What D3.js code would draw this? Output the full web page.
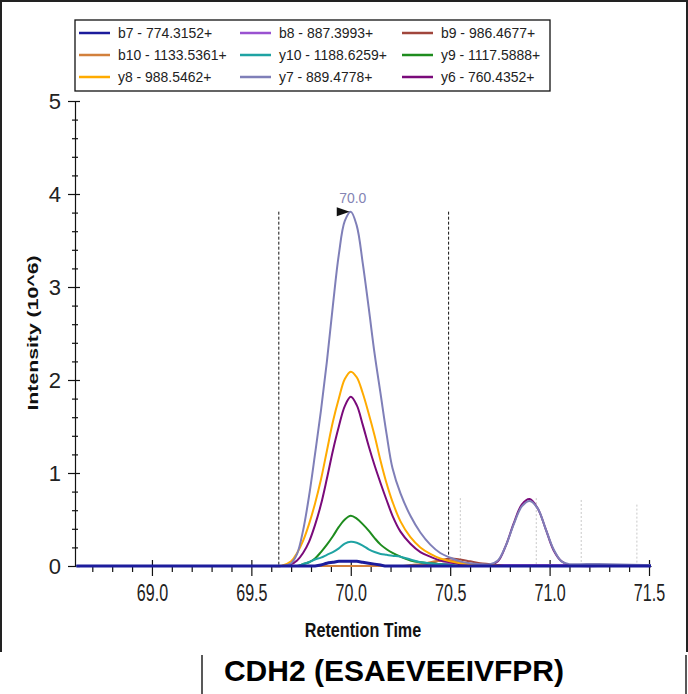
<!DOCTYPE html>
<html lang="en">
<head>
<meta charset="UTF-8">
<title>CDH2 (ESAEVEEIVFPR)</title>
<script src="https://d3js.org/d3.v7.min.js"></script>
<style>
  body, html { margin: 0; background: #fff; }
  svg { display: block; font-family: "Liberation Sans", Arial, sans-serif; }
</style>
</head>
<body>
<script>
// retention times (min), shared by all transitions
const times = [68.62, 69.60, 69.65, 69.70, 69.73, 69.76, 69.79, 69.82, 69.85, 69.88,
               69.91, 69.94, 69.97, 70.00, 70.03, 70.06, 70.09, 70.12, 70.15, 70.18,
               70.21, 70.25, 70.30, 70.35, 70.40, 70.45, 70.50, 70.55, 70.60, 70.65,
               70.70, 70.74, 70.78, 70.82, 70.86, 70.90, 70.94, 70.98, 71.02, 71.06,
               71.10, 71.15, 71.30, 71.51];

// intensities (10^6)
const b7 = [0, 0, 0, 0, 0, 0, 0, 0, 0.01, 0.03,
            0.04, 0.05, 0.05, 0.05, 0.05, 0.04, 0.03, 0.02, 0.01, 0,
            0, 0, 0, 0, 0, 0, 0, 0, 0, 0,
            0, 0, 0, 0, 0, 0, 0, 0, 0, 0,
            0, 0, 0, 0];
const b8 = [0, 0, 0, 0, 0, 0, 0, 0, 0, 0,
            0, 0, 0, 0, 0, 0, 0, 0, 0, 0,
            0, 0, 0, 0, 0.01, 0.02, 0.03, 0.03, 0.02, 0.02,
            0.01, 0.01, 0.01, 0.01, 0.01, 0.01, 0.01, 0.01, 0.01, 0.01,
            0.01, 0, 0, 0];
const b9 = [0, 0, 0, 0, 0, 0, 0, 0, 0, 0,
            0, 0, 0, 0, 0, 0, 0, 0, 0, 0,
            0, 0, 0, 0.01, 0.03, 0.06, 0.08, 0.07, 0.05, 0.03,
            0.02, 0.01, 0, 0, 0, 0, 0, 0, 0, 0,
            0, 0, 0, 0];
const b10 = [0, 0, 0, 0, 0, 0, 0, 0, 0, 0,
             0, 0, 0, 0, 0, 0, 0, 0, 0, 0,
             0, 0, 0.01, 0.02, 0.04, 0.06, 0.06, 0.04, 0.02, 0.01,
             0, 0, 0, 0, 0, 0, 0, 0, 0, 0,
             0, 0, 0, 0];
const y10 = [0, 0, 0, 0, 0, 0.02, 0.04, 0.07, 0.09, 0.12,
             0.15, 0.19, 0.24, 0.26, 0.25, 0.22, 0.18, 0.15, 0.13, 0.12,
             0.11, 0.10, 0.07, 0.04, 0.03, 0.02, 0.01, 0, 0, 0,
             0, 0, 0, 0, 0, 0, 0, 0, 0, 0,
             0, 0, 0, 0];
const y9 = [0, 0, 0, 0, 0, 0.02, 0.04, 0.08, 0.15, 0.23,
            0.32, 0.42, 0.50, 0.54, 0.51, 0.45, 0.38, 0.30, 0.23, 0.18,
            0.14, 0.10, 0.06, 0.04, 0.03, 0.02, 0.01, 0, 0, 0,
            0, 0, 0, 0, 0, 0, 0, 0, 0, 0,
            0, 0, 0, 0];
const y8 = [0, 0, 0, 0.05, 0.14, 0.27, 0.45, 0.67, 0.93, 1.24,
            1.55, 1.80, 2.01, 2.09, 2.03, 1.86, 1.64, 1.40, 1.13, 0.89,
            0.69, 0.48, 0.31, 0.20, 0.13, 0.08, 0.05, 0.03, 0.02, 0.01,
            0.01, 0, 0, 0, 0, 0, 0, 0, 0, 0,
            0, 0, 0, 0];
const y7 = [0, 0, 0, 0.03, 0.13, 0.38, 0.75, 1.20, 1.67, 2.20,
            2.80, 3.35, 3.71, 3.81, 3.66, 3.26, 2.78, 2.28, 1.85, 1.42,
            1.05, 0.78, 0.54, 0.36, 0.23, 0.14, 0.09, 0.05, 0.03, 0.02,
            0.02, 0.06, 0.22, 0.45, 0.64, 0.70, 0.62, 0.40, 0.18, 0.05,
            0.02, 0.02, 0.02, 0.01];
const y6 = [0, 0, 0, 0.02, 0.06, 0.14, 0.26, 0.44, 0.66, 0.94,
            1.24, 1.50, 1.72, 1.82, 1.73, 1.52, 1.29, 1.08, 0.89, 0.71,
            0.54, 0.37, 0.24, 0.15, 0.10, 0.06, 0.04, 0.02, 0.01, 0.01,
            0.01, 0.05, 0.22, 0.46, 0.66, 0.72, 0.62, 0.40, 0.17, 0.05,
            0.01, 0.01, 0.01, 0];

const legendNames = ["b7 - 774.3152+", "b8 - 887.3993+", "b9 - 986.4677+",
                     "b10 - 1133.5361+", "y10 - 1188.6259+", "y9 - 1117.5888+",
                     "y8 - 988.5462+", "y7 - 889.4778+", "y6 - 760.4352+"];
const seriesValues = [b7, b8, b9, b10, y10, y9, y8, y7, y6];
const seriesColors = ["#1c1c9c", "#9a52d0", "#a0463c", "#d2803c", "#1fa3a3",
                      "#1e8c1e", "#ffab00", "#7f7fb8", "#7a0a7a"];
// order the traces are painted in (indexes into the lists above)
const drawOrder = [1, 2, 3, 8, 6, 5, 4, 7, 0];

const xMajor = [69.0, 69.5, 70.0, 70.5, 71.0, 71.5];
const xMinor = [68.7, 68.8, 68.9, 69.1, 69.2, 69.3, 69.4, 69.6, 69.7, 69.8, 69.9,
                70.1, 70.2, 70.3, 70.4, 70.6, 70.7, 70.8, 70.9, 71.1, 71.2, 71.3, 71.4];
const yMajor = [0, 1, 2, 3, 4, 5];
const yMinor = [0.2, 0.4, 0.6, 0.8, 1.2, 1.4, 1.6, 1.8, 2.2, 2.4, 2.6, 2.8,
                3.2, 3.4, 3.6, 3.8, 4.2, 4.4, 4.6, 4.8];

// integration boundaries of the picked peak, and the faint ones of other peaks
const peakRT = 70.0, peakApex = 3.81;
const boundaries = [69.638, 70.492];
const otherBoundaries = [70.551, 70.933, 71.159, 71.439];
const otherBoundaryTops = [0.73, 0.73, 0.71, 0.66];

const width = 688, height = 694;
const svg = d3.select("body").append("svg")
    .attr("width", width).attr("height", height);

const x = d3.scaleLinear().domain([68.613, 71.51]).range([75, 651]);
const y = d3.scaleLinear().domain([0, 5]).range([566, 101]);

// frame
svg.append("path")
    .attr("d", "M1,652V1H687V652")
    .attr("fill", "none").attr("stroke", "#222").attr("stroke-width", 2);
svg.append("line").attr("x1", 202).attr("x2", 202).attr("y1", 655).attr("y2", 694)
    .attr("stroke", "#222").attr("stroke-width", 1.5);
svg.append("line").attr("x1", 686).attr("x2", 686).attr("y1", 655).attr("y2", 694)
    .attr("stroke", "#222").attr("stroke-width", 1.5);

svg.append("clipPath").attr("id", "plot")
  .append("rect").attr("x", 75).attr("y", 90).attr("width", 578).attr("height", 479);

// boundary markers
svg.append("g").selectAll("line")
  .data(otherBoundaries)
  .join("line")
    .attr("x1", d => x(d)).attr("x2", d => x(d))
    .attr("y1", (d, i) => y(otherBoundaryTops[i])).attr("y2", y(0))
    .attr("stroke", "#c8c8c8").attr("stroke-width", 1)
    .attr("stroke-dasharray", "2,2");

svg.append("g").selectAll("line")
  .data(boundaries)
  .join("line")
    .attr("x1", d => x(d)).attr("x2", d => x(d))
    .attr("y1", y(peakApex)).attr("y2", y(0))
    .attr("stroke", "#111").attr("stroke-width", 1)
    .attr("stroke-dasharray", "3,2");

// axes
const xAxis = svg.append("g").attr("transform", `translate(0,${y(0)})`)
    .call(d3.axisBottom(x).tickValues(xMajor).tickSize(10).tickSizeOuter(0)
        .tickFormat(d3.format(".1f")));
xAxis.selectAll(".tick line").attr("y1", -6);
xAxis.selectAll(".tick text")
    .attr("y", 19).attr("transform", "scale(0.7,1)")
    .style("font-size", "23px").attr("fill", "#222");
svg.append("g").attr("transform", `translate(0,${y(0)})`)
    .call(d3.axisBottom(x).tickValues(xMinor).tickSize(6).tickSizeOuter(0).tickFormat(""))
    .select(".domain").remove();

const yAxis = svg.append("g").attr("transform", `translate(${x.range()[0]},0)`)
    .call(d3.axisLeft(y).tickValues(yMajor).tickSize(7).tickSizeOuter(0)
        .tickFormat(d3.format("d")));
yAxis.selectAll(".tick line").attr("x1", 5);
yAxis.selectAll(".tick text")
    .attr("x", -14).style("font-size", "22px").attr("fill", "#222");
svg.append("g").attr("transform", `translate(${x.range()[0]},0)`)
    .call(d3.axisLeft(y).tickValues(yMinor).tickSize(3).tickSizeOuter(0).tickFormat(""))
    .call(g => g.selectAll(".tick line").attr("x1", 3))
    .select(".domain").remove();

svg.selectAll(".domain, .tick line").attr("stroke", "#111").attr("stroke-width", 1.2);

// traces
const line = d3.line()
    .x((d, i) => x(times[i]))
    .y(d => y(d))
    .curve(d3.curveCatmullRom.alpha(0.5));

svg.append("g").attr("clip-path", "url(#plot)")
  .selectAll("path")
  .data(drawOrder)
  .join("path")
    .attr("d", k => line(seriesValues[k]))
    .attr("fill", "none")
    .attr("stroke", k => seriesColors[k])
    .attr("stroke-width", k => k === 0 ? 3 : 2)
    .attr("stroke-linejoin", "round");

// picked peak marker and label
const tipX = x(peakRT) - 1, tipY = y(peakApex);
svg.append("path")
    .attr("d", `M${tipX},${tipY}L${tipX - 13},${tipY - 4.5}L${tipX - 13},${tipY + 4.5}Z`)
    .attr("fill", "#111");
svg.append("text")
    .attr("transform", `translate(${x(peakRT) + 2},${tipY - 9}) scale(0.93,1)`)
    .attr("text-anchor", "middle")
    .style("font-size", "15px").attr("fill", "#8484b4")
    .text(peakRT.toFixed(1));

// axis titles
svg.append("text")
    .attr("transform", "translate(363,637) scale(0.77,1)")
    .attr("text-anchor", "middle")
    .style("font-size", "21px").style("font-weight", "bold").attr("fill", "#111")
    .text("Retention Time");
svg.append("text")
    .attr("transform", "translate(38,333) rotate(-90) scale(1.37,1)")
    .attr("text-anchor", "middle")
    .style("font-size", "15.5px").style("font-weight", "bold").attr("fill", "#111")
    .text("Intensity (10^6)");

// legend
const legend = svg.append("g");
legend.append("rect")
    .attr("x", 75).attr("y", 20).attr("width", 475).attr("height", 71)
    .attr("fill", "#fff").attr("stroke", "#111").attr("stroke-width", 1.3);
const colX = [79, 240, 402];
const rowY = [33, 55, 77];
const item = legend.selectAll("g.item")
  .data(legendNames)
  .join("g")
    .attr("class", "item")
    .attr("transform", (d, i) => `translate(${colX[i % 3]},${rowY[Math.floor(i / 3)]})`);
item.append("line")
    .attr("x1", 0).attr("x2", 31)
    .attr("stroke", (d, i) => seriesColors[i]).attr("stroke-width", 2.5);
item.append("text")
    .attr("transform", "translate(39,0) scale(0.93,1)")
    .attr("dy", "0.36em")
    .style("font-size", "15px").attr("fill", "#222")
    .text(d => d);

// caption
svg.append("text")
    .attr("x", 394).attr("y", 681)
    .attr("text-anchor", "middle")
    .style("font-size", "30px").style("font-weight", "bold").attr("fill", "#000")
    .text("CDH2 (ESAEVEEIVFPR)");
</script>
</body>
</html>
